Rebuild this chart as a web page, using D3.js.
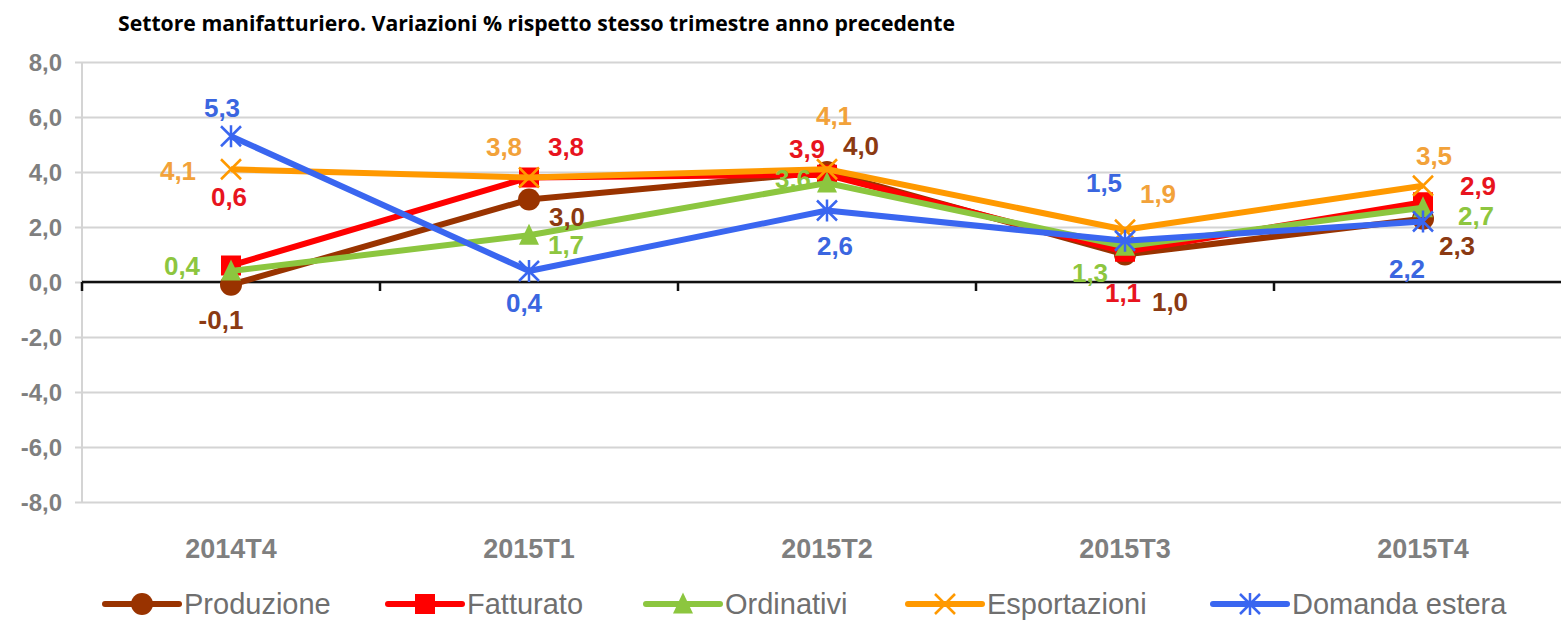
<!DOCTYPE html>
<html>
<head>
<meta charset="utf-8">
<script src="https://cdn.jsdelivr.net/npm/d3@7"></script>
<style>
  html, body { margin: 0; padding: 0; background: #fff; }
  svg { display: block; }
</style>
</head>
<body>
<svg id="chart" width="1561" height="620"></svg>
<script>
// ---- data ----
const categories = ["2014T4", "2015T1", "2015T2", "2015T3", "2015T4"];
const seriesNames = ["Produzione", "Fatturato", "Ordinativi", "Esportazioni", "Domanda estera"];
const produzione = [-0.1, 3.0, 4.0, 1.0, 2.3];
const fatturato = [0.6, 3.8, 3.9, 1.1, 2.9];
const ordinativi = [0.4, 1.7, 3.6, 1.3, 2.7];
const esportazioni = [4.1, 3.8, 4.1, 1.9, 3.5];
const domandaEstera = [5.3, 0.4, 2.6, 1.5, 2.2];
const yTicks = [-8, -6, -4, -2, 0, 2, 4, 6, 8];
const title = "Settore manifatturiero. Variazioni % rispetto stesso trimestre anno precedente";

// ---- styling / layout (not data) ----
const lineColors = ["#993300", "#FF0000", "#8CC63F", "#FF9900", "#3A66F0"];
const labelColors = ["#8B3A12", "#E8141E", "#8DC63F", "#F2A23A", "#3A66E0"];
const markers = ["circle", "square", "triangle", "x", "star"];
// label offsets (px) relative to each point
const labelOffsets = [
  [[-10, 44], [38, 26], [34, -17], [45, 56], [34, 36]],
  [[-2, -60], [37, -22], [-20, -17], [-2, 50], [55, -7]],
  [[-49, 4], [37, 19], [-34, 5], [-35, 36], [53, 17]],
  [[-53, 11], [-25, -22], [7, -44], [33, -27], [11, -21]],
  [[-9, -19], [-5, 41], [8, 44], [-21, -49], [-16, 56]]
];

const allValues = [produzione, fatturato, ordinativi, esportazioni, domandaEstera];
const series = seriesNames.map((name, i) => ({ name, values: allValues[i], i }));

const svg = d3.select("#chart");
const plotLeft = 82, plotRight = 1572, plotTop = 62, plotBottom = 502;

const x = d3.scaleBand().domain(categories).range([plotLeft, plotRight]);
const y = d3.scaleLinear().domain([-8, 8]).range([plotBottom, plotTop]);

const loc = d3.formatLocale({ decimal: ",", thousands: ".", grouping: [3], currency: ["", "€"], minus: "-" });
const fmt = loc.format(".1f");

// title
svg.append("text")
  .attr("x", 118).attr("y", 31)
  .attr("font-family", "'Open Sans', 'Noto Sans', sans-serif")
  .attr("font-weight", "bold").attr("font-size", 21)
  .attr("textLength", 837).attr("lengthAdjust", "spacingAndGlyphs")
  .attr("fill", "#000")
  .text(title);

// gridlines
const yAxis = d3.axisLeft(y).tickValues(yTicks).tickSize(-(1561 - plotLeft)).tickPadding(20).tickFormat(fmt);
const gy = svg.append("g").attr("transform", `translate(${plotLeft},0)`).call(yAxis);
gy.select(".domain").remove();
gy.selectAll(".tick line")
  .attr("x1", -7).attr("x2", 1561 - plotLeft)
  .attr("stroke", "#D4D4D4").attr("stroke-width", 2);
gy.selectAll(".tick text")
  .attr("font-family", "'Liberation Sans', Arial, sans-serif")
  .attr("font-weight", "bold").attr("font-size", 24)
  .attr("fill", "#7F7F7F")
  .attr("dy", "0.35em");

// y axis line
svg.append("line")
  .attr("x1", plotLeft).attr("x2", plotLeft).attr("y1", plotTop).attr("y2", plotBottom)
  .attr("stroke", "#D4D4D4").attr("stroke-width", 2);

// zero line with ticks at band boundaries
const xAxis = d3.axisBottom(x).tickSize(0).tickFormat("");
const gx = svg.append("g").attr("transform", `translate(0,${y(0)})`).call(xAxis);
gx.select(".domain").attr("stroke", "#111").attr("stroke-width", 2.5)
  .attr("d", `M${plotLeft},0H1561`);
gx.selectAll(".tick").remove();
const boundaries = categories.map(c => x(c));
gx.selectAll("line.bt").data(boundaries).enter().append("line")
  .attr("class", "bt")
  .attr("x1", d => d).attr("x2", d => d).attr("y1", 0).attr("y2", 9)
  .attr("stroke", "#111").attr("stroke-width", 2.5);

// category labels
const xLabels = d3.axisBottom(x).tickSize(0).tickPadding(0);
const gxl = svg.append("g").attr("transform", `translate(0,${plotBottom + 56})`).call(xLabels);
gxl.select(".domain").remove();
gxl.selectAll(".tick text")
  .attr("dy", 0)
  .attr("font-family", "'Liberation Sans', Arial, sans-serif")
  .attr("font-weight", "bold").attr("font-size", 27)
  .attr("fill", "#7F7F7F");

const cx = d => x(d) + x.bandwidth() / 2;

function drawMarker(g, type, color, px, py, size) {
  const s = size;
  if (type === "circle") {
    g.append("circle").attr("cx", px).attr("cy", py).attr("r", s * 0.55).attr("fill", color);
  } else if (type === "square") {
    g.append("rect").attr("x", px - s / 2).attr("y", py - s / 2).attr("width", s).attr("height", s).attr("fill", color);
  } else if (type === "triangle") {
    const h = s * 0.95;
    g.append("path").attr("d", `M${px},${py - h / 2 - 2}L${px + s / 2},${py + h / 2}L${px - s / 2},${py + h / 2}Z`).attr("fill", color);
  } else if (type === "x") {
    const r = s / 2;
    g.append("path").attr("d", `M${px - r},${py - r}L${px + r},${py + r}M${px - r},${py + r}L${px + r},${py - r}`)
      .attr("stroke", color).attr("stroke-width", 2.5).attr("fill", "none");
  } else if (type === "star") {
    const r = s / 2;
    g.append("path").attr("d",
      `M${px - r},${py - r}L${px + r},${py + r}M${px - r},${py + r}L${px + r},${py - r}M${px},${py - r - 1}L${px},${py + r + 1}`)
      .attr("stroke", color).attr("stroke-width", 2.5).attr("fill", "none");
  }
}

const line = d3.line().x((d, j) => cx(categories[j])).y(d => y(d));

// series
series.forEach(s => {
  const g = svg.append("g");
  g.append("path").datum(s.values)
    .attr("d", line)
    .attr("fill", "none").attr("stroke", lineColors[s.i])
    .attr("stroke-width", 6).attr("stroke-linejoin", "round");
  s.values.forEach((v, j) => {
    drawMarker(g, markers[s.i], lineColors[s.i], cx(categories[j]), y(v), 20);
  });
});

// data labels
series.forEach(s => {
  svg.append("g").selectAll("text").data(s.values).enter().append("text")
    .attr("x", (v, j) => cx(categories[j]) + labelOffsets[s.i][j][0])
    .attr("y", (v, j) => y(v) + labelOffsets[s.i][j][1])
    .attr("text-anchor", "middle")
    .attr("font-family", "'Liberation Sans', Arial, sans-serif")
    .attr("font-weight", "bold").attr("font-size", 26)
    .attr("fill", labelColors[s.i])
    .text(v => fmt(v));
});

// legend
const legendX = [142, 425, 683, 945, 1250];
const legendY = 604;
series.forEach(s => {
  const g = svg.append("g");
  const mx = legendX[s.i];
  g.append("line").attr("x1", mx - 37).attr("x2", mx + 37).attr("y1", legendY).attr("y2", legendY)
    .attr("stroke", lineColors[s.i]).attr("stroke-width", 6).attr("stroke-linecap", "round");
  drawMarker(g, markers[s.i], lineColors[s.i], mx, legendY, 20);
  g.append("text")
    .attr("x", mx + 42).attr("y", legendY + 10)
    .attr("font-family", "'Liberation Sans', Arial, sans-serif")
    .attr("font-size", 29).attr("fill", "#6F6F6F")
    .text(s.name);
});
</script>
</body>
</html>
